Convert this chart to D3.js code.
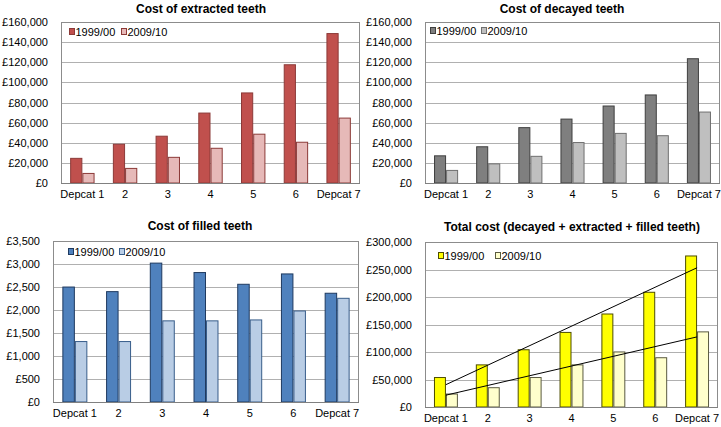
<!DOCTYPE html>
<html><head><meta charset="utf-8">
<script src="https://cdn.jsdelivr.net/npm/d3@7"></script>
<style>
html,body{margin:0;padding:0;background:#fff;}
svg{display:block;font-family:"Liberation Sans",Arial,sans-serif;}
</style></head>
<body>
<svg id="chart" width="721" height="427"></svg>
<script>
const categories = ["Depcat 1","2","3","4","5","6","Depcat 7"];
const seriesNames = ["1999/00","2009/10"];

const extracted1999 = [25000,39000,47000,70000,90000,118000,149000];
const extracted2009 = [10000,15000,26000,35000,49000,41000,65000];
const decayed1999 = [27500,36500,55500,64000,77000,88000,124000];
const decayed2009 = [13000,19500,27000,40700,49800,47500,71000];
const filled1999 = [2510,2410,3030,2825,2570,2795,2375];
const filled2009 = [1325,1325,1775,1775,1795,1990,2265];
const total1999 = [54500,77500,105000,136500,170000,209500,275500];
const total2009 = [24500,36000,54500,77500,101000,90500,137500];

const ticksTop = [0,20000,40000,60000,80000,100000,120000,140000,160000];
const ticksFilled = [0,500,1000,1500,2000,2500,3000,3500];
const ticksTotal = [0,50000,100000,150000,200000,250000,300000];

const svg = d3.select("#chart");
const fmt = v => "£" + d3.format(",")(v);

function panel(cfg){
  const g = svg.append("g");
  const x = d3.scaleBand().domain(categories).range([cfg.left, cfg.right]);
  const y = d3.scaleLinear().domain([0, cfg.max]).range([cfg.bottom, cfg.top]);
  const bw = x.bandwidth()/3.5;
  const xs = d3.scaleBand().domain(seriesNames).range([0, 2*bw]);
  const off = (x.bandwidth() - 2*bw)/2;

  g.selectAll("line.grid").data(cfg.ticks.filter(t=>t>0 && t<cfg.max)).join("line")
    .attr("x1", cfg.left).attr("x2", cfg.right)
    .attr("y1", d=>Math.round(y(d))+0.5).attr("y2", d=>Math.round(y(d))+0.5)
    .attr("stroke","#b0b0b0").attr("stroke-width",1);
  g.append("rect").attr("x",cfg.left+0.5).attr("y",Math.round(y(cfg.max))+0.5)
    .attr("width",cfg.right-cfg.left-1).attr("height",cfg.bottom-Math.round(y(cfg.max)))
    .attr("fill","none").attr("stroke","#8c8c8c");

  g.selectAll("text.yt").data(cfg.ticks).join("text")
    .attr("x", cfg.left-13).attr("y", d=>y(d)+4)
    .attr("text-anchor","end").attr("font-size",11).attr("fill","#000")
    .text(fmt);

  const sets = [cfg.a, cfg.b];
  sets.forEach((vals, si) => {
    g.selectAll("rect.s"+si).data(vals).join("rect")
      .attr("x", (d,i)=> x(categories[i]) + off + xs(seriesNames[si]) + 0.5)
      .attr("y", d=> y(d) + 0.5)
      .attr("width", xs.bandwidth()-1)
      .attr("height", d=> cfg.bottom - y(d) - 0.5)
      .attr("fill", cfg.fills[si]).attr("stroke", cfg.strokes[si]).attr("stroke-width",1);
  });

  g.append("line").attr("x1",cfg.left).attr("x2",cfg.right)
    .attr("y1",cfg.bottom+0.5).attr("y2",cfg.bottom+0.5).attr("stroke","#808080");

  g.selectAll("text.xt").data(categories).join("text")
    .attr("x", d=> x(d)+x.bandwidth()/2).attr("y", cfg.bottom+15)
    .attr("text-anchor","middle").attr("font-size",11).text(d=>d);

  g.append("text").attr("x",cfg.titleX).attr("y",cfg.titleY)
    .attr("text-anchor","middle").attr("font-size",12).attr("font-weight","bold").text(cfg.title);

  seriesNames.forEach((s, si) => {
    const lx = cfg.legX[si];
    g.append("rect").attr("x",lx+0.5).attr("y",cfg.legY-3.5).attr("width",5).attr("height",6)
      .attr("fill",cfg.fills[si]).attr("stroke",cfg.strokes[si]);
    g.append("text").attr("x",lx+6.5).attr("y",cfg.legY+4).attr("font-size",11).text(s);
  });

  if (cfg.trend){
    sets.forEach(vals => {
      const n = vals.length, xsI = d3.range(1,n+1);
      const mx = d3.mean(xsI), my = d3.mean(vals);
      const slope = d3.sum(xsI.map((xi,i)=>(xi-mx)*(vals[i]-my))) / d3.sum(xsI.map(xi=>(xi-mx)**2));
      const icp = my - slope*mx;
      g.append("line")
        .attr("x1", x(categories[0])+x.bandwidth()/2).attr("y1", y(icp+slope*1))
        .attr("x2", x(categories[n-1])+x.bandwidth()/2).attr("y2", y(icp+slope*n))
        .attr("stroke","#000").attr("stroke-width",1);
    });
  }
}

panel({left:61,right:360,top:22,bottom:183,max:160000,ticks:ticksTop,
  a:extracted1999,b:extracted2009,fills:["#c0504d","#e6b9b8"],strokes:["#8c3a38","#8c3a38"],
  title:"Cost of extracted teeth",titleX:201,titleY:13,legX:[69,121],legY:32});
panel({left:425,right:720,top:22,bottom:183,max:160000,ticks:ticksTop,
  a:decayed1999,b:decayed2009,fills:["#7f7f7f","#bfbfbf"],strokes:["#3f3f3f","#6f6f6f"],
  title:"Cost of decayed teeth",titleX:562,titleY:13,legX:[430,481],legY:31});
panel({left:53,right:359,top:241,bottom:402,max:3500,ticks:ticksFilled,
  a:filled1999,b:filled2009,fills:["#4f81bd","#b9cde5"],strokes:["#1f3a60","#385d8a"],
  title:"Cost of filled teeth",titleX:200,titleY:230,legX:[68,119],legY:252});
panel({left:425,right:718,top:242,bottom:407,max:300000,ticks:ticksTotal,
  a:total1999,b:total2009,fills:["#ffff00","#ffffcc"],strokes:["#4d4d00","#5a5a40"],trend:true,
  title:"Total cost (decayed + extracted + filled teeth)",titleX:572,titleY:231,legX:[438,495],legY:256});
</script>
</body></html>
